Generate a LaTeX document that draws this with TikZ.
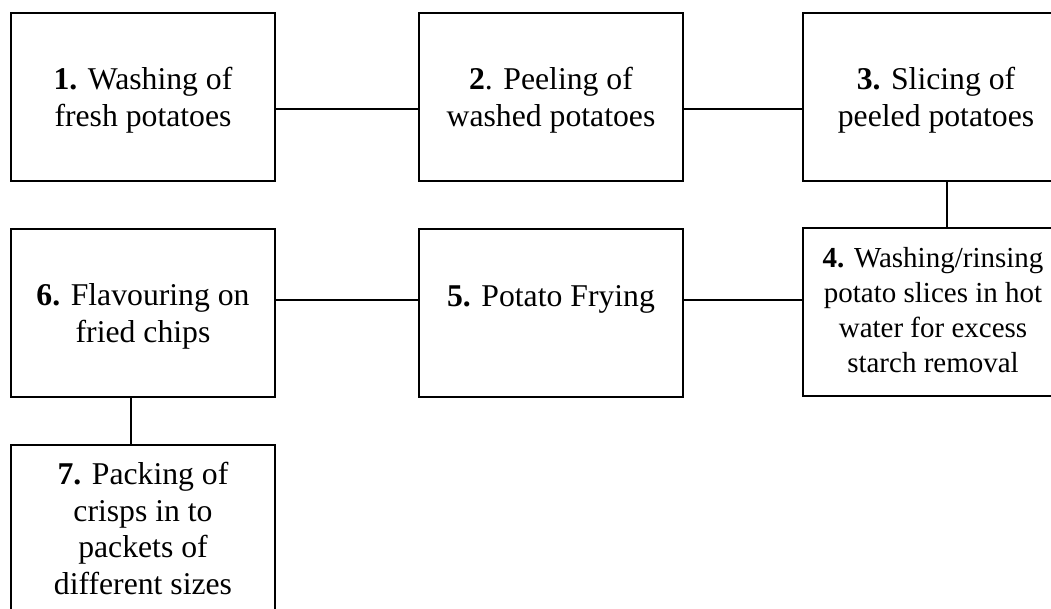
\documentclass[tikz,border=0pt]{standalone}
\usepackage{fontspec}
\setmainfont{Liberation Serif}
\begin{document}
\begin{tikzpicture}[x=1pt,y=-1pt,
  box/.style={draw, line width=2pt, rectangle, inner sep=0pt, minimum width=264pt, minimum height=168pt},
  txt/.style={anchor=north, align=center, inner sep=0pt, font=\fontsize{31.7}{36.5}\selectfont},
  txts/.style={anchor=north, align=center, inner sep=0pt, font=\fontsize{29}{35}\selectfont},
  link/.style={line width=2pt}]
\clip (0,0) rectangle (1051,608);
\node[box] (b1) at (143,97) {};
\node[box] (b2) at (551,97) {};
\node[box] (b3) at (935,97) {};
\node[box] (b4) at (935,311.5) {};
\node[box] (b5) at (551,313) {};
\node[box] (b6) at (143,312.5) {};
\node[box] (b7) at (143,529) {};
\node[txt] (t1) at (143,67.4) {\textbf{1.} Washing of\\fresh potatoes};
\node[txt] (t2) at (551,67.4) {\textbf{2}. Peeling of\\washed potatoes};
\node[txt] (t3) at (936,67.4) {\textbf{3.} Slicing of\\peeled potatoes};
\node[txts] (t4) at (933,247) {\textbf{4.} Washing/rinsing\\potato slices in hot\\water for excess\\starch removal};
\node[txt] (t5) at (551,285.5) {\textbf{5.} Potato Frying};
\node[txt] (t6) at (143,283.5) {\textbf{6.} Flavouring on\\fried chips};
\node[txt] (t7) at (143,462) {\textbf{7.} Packing of\\crisps in to\\packets of\\different sizes};
\coordinate (r1) at (0,109);
\coordinate (r2) at (0,300);
\coordinate (c1) at (947,0);
\coordinate (c2) at (131,0);
\draw[link] (b1.east |- r1) -- (b2.west |- r1);
\draw[link] (b2.east |- r1) -- (b3.west |- r1);
\draw[link] (b3.south -| c1) -- (b4.north -| c1);
\draw[link] (b4.west |- r2) -- (b5.east |- r2);
\draw[link] (b5.west |- r2) -- (b6.east |- r2);
\draw[link] (b6.south -| c2) -- (b7.north -| c2);
\end{tikzpicture}
\end{document}
